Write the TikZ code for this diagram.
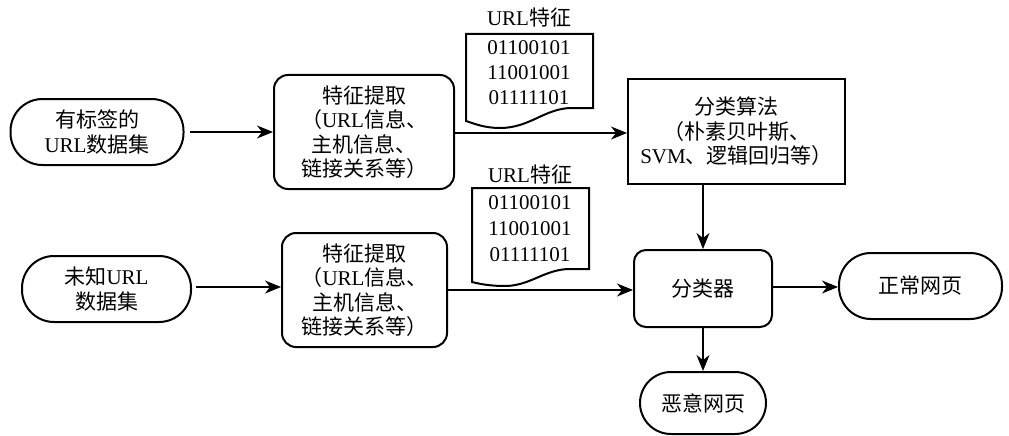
\documentclass[tikz,border=0pt]{standalone}
\usepackage{fontspec}
\setmainfont{Liberation Serif}
\newfontfamily\cjkfont{Noto Sans CJK SC}
\newcommand{\zh}[1]{{\cjkfont #1}}
\usetikzlibrary{arrows.meta}
\begin{document}
\begin{tikzpicture}[x=1pt,y=-1pt,
  every node/.style={font=\fontsize{21}{24.5}\selectfont, align=center, inner sep=0pt},
  term/.style={draw, line width=2pt, rounded corners=32pt},
  proc/.style={draw, line width=2pt, rounded corners=14pt},
  docframe/.style={draw, line width=2pt, line join=miter},
  arr/.style={line width=1.2pt, -{Stealth[length=16pt,width=13pt,inset=5pt]}}
]
\useasboundingbox (0,0) rectangle (1009,436);

% first row
\node[term, minimum width=173pt, minimum height=66pt] (d1) at (97,132) {\zh{有标签的}\\URL\zh{数据集}};
\node[proc, minimum width=180pt, minimum height=114pt] (f1) at (364,132) {\zh{特征提取}\\\zh{（}URL\zh{信息、}\\\zh{主机信息、}\\\zh{链接关系等）}};
\node[draw, line width=2pt, minimum width=217pt, minimum height=105pt] (alg) at (736.5,131.5) {\zh{分类算法}\\\zh{（朴素贝叶斯、}\\SVM\zh{、逻辑回归等）}};

% document 1
\draw[docframe] (466,34) -- (593,34) -- (593,108) -- (572,108)
  .. controls (545,108) and (530,128) .. (500,128)
  .. controls (485,128) and (475,124) .. (466,121) -- cycle;
\node (doc1lab) at (529,18) {URL\zh{特征}};
\node[font=\fontsize{21}{25}\selectfont] (doc1) at (529,73) {01100101\\11001001\\01111101};

% second row
\node[term, minimum width=169pt, minimum height=66pt] (d2) at (106.5,289) {\zh{未知}URL\\\zh{数据集}};
\node[proc, minimum width=165pt, minimum height=114pt] (f2) at (364.5,290) {\zh{特征提取}\\\zh{（}URL\zh{信息、}\\\zh{主机信息、}\\\zh{链接关系等）}};
\node[proc, rounded corners=12pt, minimum width=138pt, minimum height=77pt] (cls) at (703,288.5) {\zh{分类器}};
\node[term, minimum width=163pt, minimum height=66pt] (normal) at (920.5,286) {\zh{正常网页}};
\node[term, rounded corners=31pt, minimum width=126pt, minimum height=62pt] (mal) at (703,403) {\zh{恶意网页}};

% document 2
\draw[docframe] (472,188) -- (589,188) -- (589,269) -- (570,269)
  .. controls (545,269) and (530,286) .. (505,286)
  .. controls (490,286) and (480,284) .. (472,282) -- cycle;
\node (doc2lab) at (530,175) {URL\zh{特征}};
\node[font=\fontsize{21}{26}\selectfont] (doc2) at (530,229) {01100101\\11001001\\01111101};

% connectors
\draw[arr, shorten <=5pt] (d1.east) -- (f1.west);
\draw[arr] (f1.east |- 0,133) -- (alg.west |- 0,133);
\draw[arr] (alg.south -| cls.north) -- (cls.north);
\draw[arr, shorten <=4pt] (d2.east |- 0,287) -- (f2.west |- 0,287);
\draw[arr] (f2.east) -- (cls.west |- f2.east);
\draw[arr] (cls.east |- 0,287) -- (normal.west |- 0,287);
\draw[arr] (cls.south) -- (mal.north);
\end{tikzpicture}
\end{document}
